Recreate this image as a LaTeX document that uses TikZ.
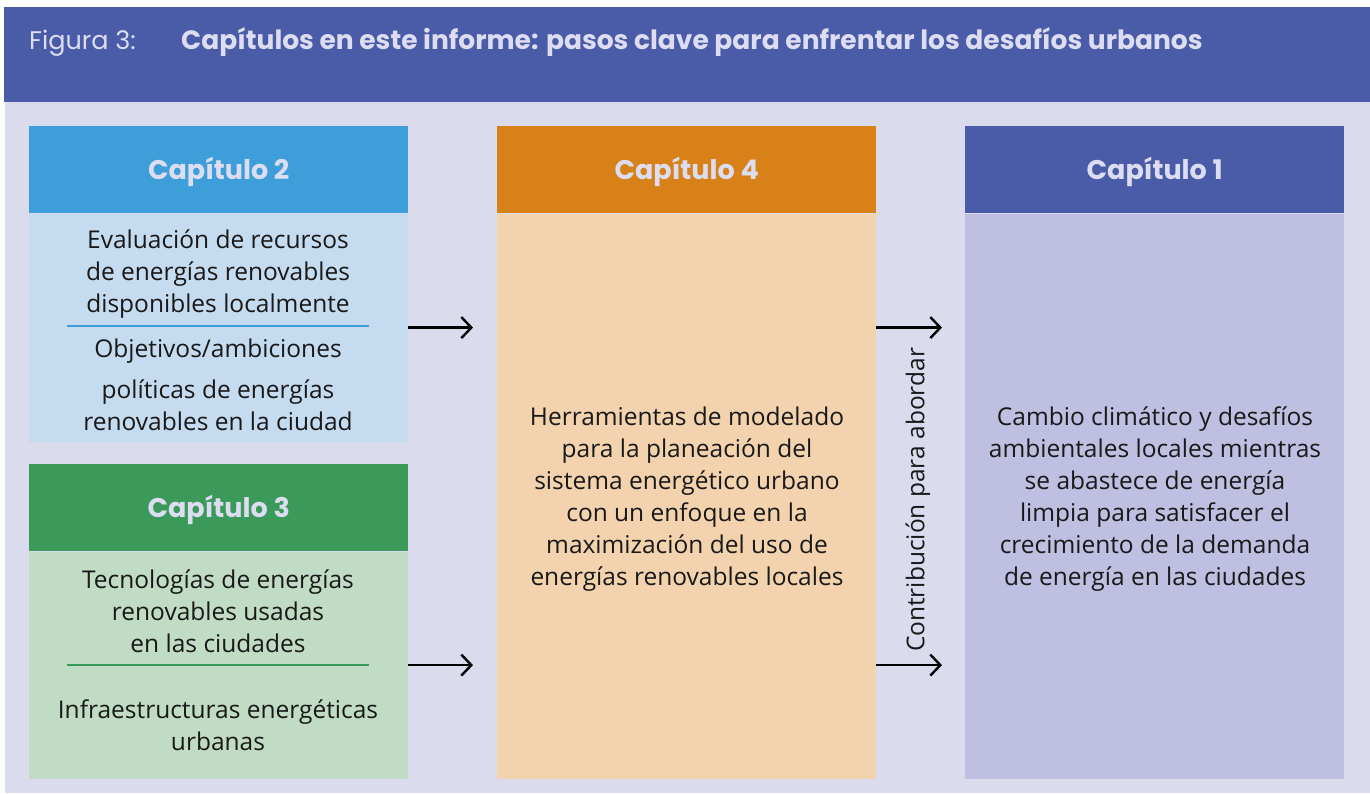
\documentclass[tikz,border=0pt]{standalone}
\usepackage{fontspec}
\setmainfont{Open Sans}
\newfontfamily\headfont{Poppins}
\usetikzlibrary{positioning,arrows.meta}

\definecolor{bandblue}{HTML}{4A5CA8}
\definecolor{lavbg}{HTML}{DADCEE}
\definecolor{headtxt}{HTML}{DCDDF0}
\definecolor{twohead}{HTML}{3D9ED9}
\definecolor{twobody}{HTML}{C4DBF0}
\definecolor{threehead}{HTML}{3B9A5A}
\definecolor{threebody}{HTML}{C0DCC4}
\definecolor{fourhead}{HTML}{D78118}
\definecolor{fourbody}{HTML}{F3D3AD}
\definecolor{onehead}{HTML}{4A5CA8}
\definecolor{onebody}{HTML}{BFBFE2}
\newcommand{\chaptitle}[1]{\raisebox{-10pt}[0pt][0pt]{#1}}

\begin{document}
\begin{tikzpicture}[x=1pt, y=1pt, node distance=0pt,
    head/.style = {minimum width=379pt, minimum height=87pt, inner sep=0pt, anchor=north west,
                   text=headtxt, font=\headfont\bfseries\fontsize{27}{32}\selectfont},
    body/.style = {minimum width=379pt, inner sep=0pt, anchor=north},
    txt/.style = {align=center, inner sep=0pt, text=black!90, font=\fontsize{24.5}{32}\selectfont},
    arr/.style = {line width=2.4pt, -{Straight Barb[length=10pt, width=21pt, line width=2.4pt]}}]
    \useasboundingbox (0,0) rectangle (1370,793);
    % background and title band
    \fill[lavbg] (5,0) rectangle (1370,691);
    \fill[bandblue] (4,691) rectangle (1370,786);
    \node (fig) [anchor=base west, inner sep=0pt, text=headtxt, font=\headfont\fontsize{25.5}{30}\selectfont] at (29,743) {Figura 3:};
    \node (title) [anchor=base west, inner sep=0pt, text=headtxt, font=\headfont\bfseries\fontsize{26.5}{30}\selectfont] at (181,743)
        {Capítulos en este informe: pasos clave para enfrentar los desafíos urbanos};

    % chapter boxes
    \node[head, fill=twohead] (c2h) at (29,667) {\chaptitle{Capítulo 2}};
    \node[body, fill=twobody, minimum height=228pt] (c2b) [below=of c2h] {};
    \node[head, fill=threehead] (c3h) at (29,329) {\chaptitle{Capítulo 3}};
    \node[body, fill=threebody, minimum height=227pt] (c3b) [below=of c3h] {};
    \node[head, fill=fourhead] (c4h) at (497,667) {\chaptitle{Capítulo 4}};
    \node[body, fill=fourbody, minimum height=565pt] (c4b) [below=of c4h] {};
    \node[head, fill=onehead] (c1h) at (965,667) {\chaptitle{Capítulo 1}};
    \node[body, fill=onebody, minimum height=565pt] (c1b) [below=of c1h] {};

    % texts
    \node[txt] (t2a) at (218,519) {Evaluación de recursos\\de energías renovables\\disponibles localmente};
    \node[txt] (t2b) at (218,442) {Objetivos/ambiciones};
    \node[txt] (t2c) at (218,388) {políticas de energías\\renovables en la ciudad};
    \node[txt] (t3a) at (218,182) {Tecnologías de energías\\renovables usadas\\en las ciudades};
    \node[txt] (t3b) at (218,68) {Infraestructuras energéticas\\urbanas};
    \node[txt] (t4) at (687,294) {Herramientas de modelado\\para la planeación del\\sistema energético urbano\\con un enfoque en la\\maximización del uso de\\energías renovables locales};
    \node[txt] (t1) at (1155,294) {Cambio climático y desafíos\\ambientales locales mientras\\se abastece de energía\\limpia para satisfacer el\\crecimiento de la demanda\\de energía en las ciudades};
    \node[txt, rotate=90] (contrib) at (918,293) {Contribución para abordar};

    % separators
    \draw[twohead, line width=2.5pt] (67,467) -- (369,467);
    \draw[threehead, line width=2.5pt] (67,128) -- (369,128);

    % arrows
    \draw[arr, shorten >=24pt] (c2b.east) -- (c2b.east -| c4b.west);
    \draw[arr, shorten >=24pt] (c3b.east) -- (c3b.east -| c4b.west);
    \draw[arr, shorten >=23pt] (c4b.east |- c2b.east) -- (c1b.west |- c2b.east);
    \draw[arr, shorten >=23pt] (c4b.east |- c3b.east) -- (c1b.west |- c3b.east);
\end{tikzpicture}
\end{document}
